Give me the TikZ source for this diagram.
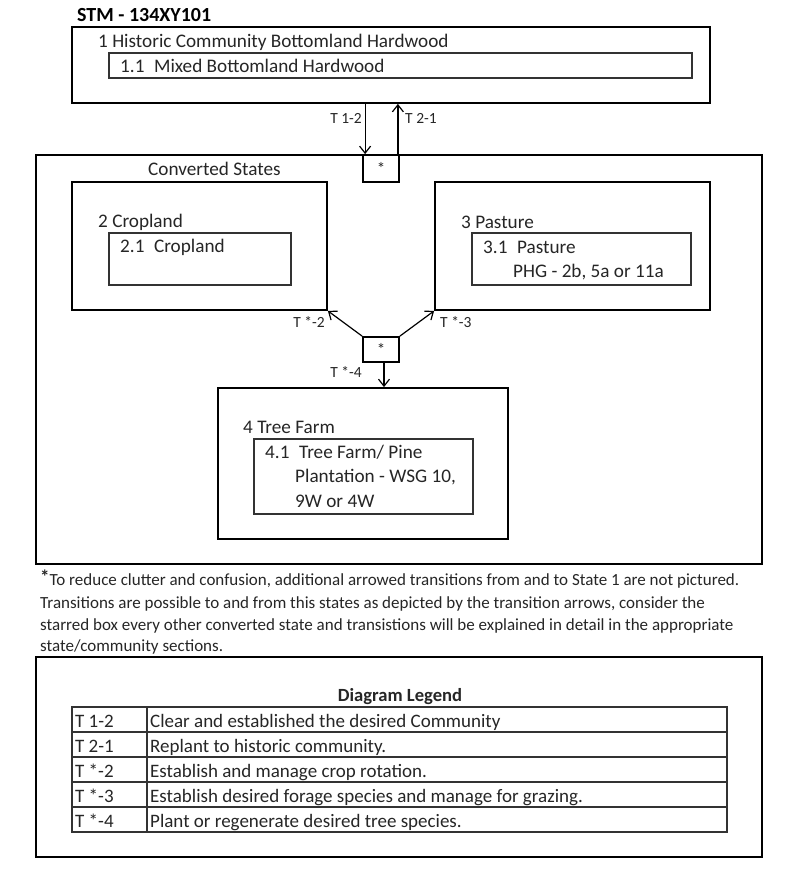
\documentclass[tikz,border=0pt]{standalone}
\usepackage{fontspec}
\setmainfont{Carlito}
\usetikzlibrary{arrows.meta}
\definecolor{ink}{gray}{0.15}
\tikzset{
	statebox/.style = {draw, line width=1.8pt, inner sep=0pt},
	commbox/.style = {draw=black!80, line width=1.1pt, inner sep=0pt},
	starbox/.style = {draw, line width=1.8pt, inner sep=0pt, font=\fontsize{17}{19}\selectfont, text=ink},
	txt/.style = {anchor=base west, inner sep=0pt, text=ink, font=\fontsize{19.2}{23}\selectfont},
	small/.style = {inner sep=0pt, text=ink, font=\fontsize{15.5}{18}\selectfont},
	note/.style = {anchor=base west, inner sep=0pt, text=ink, font=\fontsize{17}{20}\selectfont},
	legtxt/.style = {anchor=base west, inner sep=0pt, text=ink, font=\fontsize{19}{22}\selectfont},
	trans/.style = {-{Straight Barb[length=7pt,width=11pt]}, line width=1.2pt}
}
\begin{document}
\begin{tikzpicture}[x=1pt,y=-1pt]
	\useasboundingbox[fill=white] (0,0) rectangle (800,884);
	\node[txt, font=\bfseries\fontsize{20}{24}\selectfont, text=black] (stm) at (77,21) {STM - 134XY101};
	% state 1
	\node[statebox, minimum width=638pt, minimum height=76pt] (hist) at (391,65) {};
	\node[txt] (histlbl) at (98,47) {1 Historic Community Bottomland Hardwood};
	\node[commbox, minimum width=583pt, minimum height=25pt] (mixed) at (400.5,65.5) {};
	\node[txt] (mixedlbl) at (120,72) {1.1\enspace Mixed Bottomland Hardwood};
	% converted states
	\node[statebox, minimum width=726pt, minimum height=409pt] (conv) at (399,359.5) {};
	\node[starbox, minimum width=36pt, minimum height=27pt, fill=white] (startop) at (381,168.5) {*};
	\node[txt] (convlbl) at (148,175) {Converted States};
	\node[statebox, minimum width=255pt, minimum height=128pt] (crop) at (199.5,246) {};
	\node[txt] (croplbl) at (98,227) {2 Cropland};
	\node[commbox, minimum width=182pt, minimum height=52pt] (cropc) at (200,259) {};
	\node[txt] (cropclbl) at (120,252) {2.1\enspace Cropland};
	\node[statebox, minimum width=275pt, minimum height=128pt] (past) at (572.5,246) {};
	\node[txt] (pastlbl) at (461,228) {3 Pasture};
	\node[commbox, minimum width=219pt, minimum height=52pt] (pastc) at (581.5,259) {};
	\node[txt] (pastclbl) at (483,253) {3.1\enspace Pasture};
	\node[txt] (phg) at (513,277) {PHG - 2b, 5a or 11a};
	\node[starbox, minimum width=36pt, minimum height=25pt] (starmid) at (381,349.5) {*};
	\node[statebox, minimum width=290pt, minimum height=151pt] (tree) at (363,463.5) {};
	\node[txt] (treelbl) at (243,433) {4 Tree Farm};
	\node[commbox, minimum width=219pt, minimum height=75pt] (treec) at (363.5,476.5) {};
	\node[txt] (treeclbl) at (265,458) {4.1\enspace Tree Farm/ Pine};
	\node[txt] (treec2) at (295,482) {Plantation - WSG 10,};
	\node[txt] (treec3) at (295,507) {9W or 4W};
	% transitions
	\draw[trans] ([xshift=3pt]startop.north west |- hist.south) -- ([xshift=3pt]startop.north west);
	\draw[trans] ([xshift=-2pt]startop.north east) -- ([xshift=-2pt]startop.north east |- hist.south);
	\node[small, anchor=base east] (t12) at (362,123) {T 1-2};
	\node[small, anchor=base west] (t21) at (405,123) {T 2-1};
	\draw[trans] (starmid.north west) -- (crop.south east);
	\draw[trans] (starmid.north east) -- (past.south west);
	\draw[trans] ([xshift=3pt]starmid.south) -- ([xshift=3pt]starmid.south |- tree.north);
	\node[small, anchor=base east] (t2) at (325,327) {T *-2};
	\node[small, anchor=base west] (t3) at (440,327) {T *-3};
	\node[small, anchor=base east] (t4) at (362,377) {T *-4};
	% footnote
	\node[note] (note1) at (40,585) {\raisebox{2pt}{\bfseries\fontsize{19}{19}\selectfont *}To reduce clutter and confusion, additional arrowed transitions from and to State 1 are not pictured.};
	\node[note] (note2) at (40,608) {Transitions are possible to and from this states as depicted by the transition arrows, consider the};
	\node[note] (note3) at (40,630) {starred box every other converted state and transistions will be explained in detail in the appropriate};
	\node[note] (note4) at (40,651) {state/community sections.};
	% legend
	\node[statebox, minimum width=726pt, minimum height=200pt] (legend) at (399,757) {};
	\node[legtxt, anchor=base, font=\bfseries\fontsize{18.6}{22}\selectfont] (legtitle) at (400,701) {Diagram Legend};
	\draw[line width=1.1pt, black!80] (72,707) rectangle (727,832);
	\draw[line width=1.1pt, black!80] (147,707) -- (147,832);
	\draw[line width=1.1pt, black!80] (72,732) -- (727,732);
	\draw[line width=1.1pt, black!80] (72,757) -- (727,757);
	\draw[line width=1.1pt, black!80] (72,782) -- (727,782);
	\draw[line width=1.1pt, black!80] (72,807) -- (727,807);
	\node[legtxt] (k1) at (75,727) {T 1-2};
	\node[legtxt] (d1) at (150,727) {Clear and established the desired Community};
	\node[legtxt] (k2) at (75,752) {T 2-1};
	\node[legtxt] (d2) at (150,752) {Replant to historic community.};
	\node[legtxt] (k3) at (75,777) {T *-2};
	\node[legtxt] (d3) at (150,777) {Establish and manage crop rotation.};
	\node[legtxt] (k4) at (75,802) {T *-3};
	\node[legtxt] (d4) at (150,802) {Establish desired forage species and manage for grazing.};
	\node[legtxt] (k5) at (75,827) {T *-4};
	\node[legtxt] (d5) at (150,827) {Plant or regenerate desired tree species.};
\end{tikzpicture}
\end{document}
